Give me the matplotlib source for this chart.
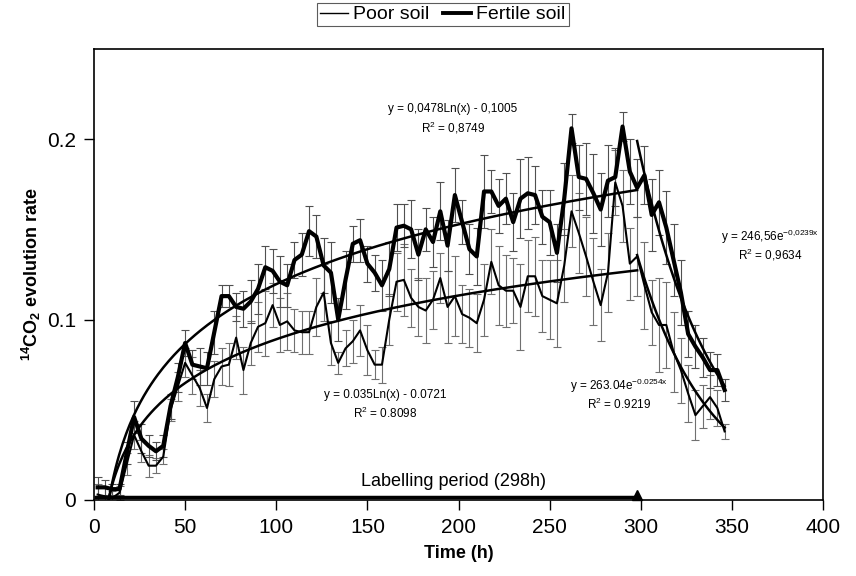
import numpy as np
import matplotlib
matplotlib.use('Agg')
import matplotlib.pyplot as plt
from matplotlib.lines import Line2D

plt.rcParams['font.family'] = ['Liberation Sans', 'DejaVu Sans']
plt.rcParams['mathtext.fontset'] = 'custom'
plt.rcParams['mathtext.rm'] = 'Liberation Sans'
plt.rcParams['mathtext.it'] = 'Liberation Sans'
plt.rcParams['mathtext.bf'] = 'Liberation Sans:bold'

# sampling times (h)
time_h = [2, 6, 10, 14, 18, 22, 26, 30, 34, 38,
          42, 46, 50, 54, 58, 62, 66, 70, 74, 78,
          82, 86, 90, 94, 98, 102, 106, 110, 114, 118,
          122, 126, 130, 134, 138, 142, 146, 150, 154, 158,
          162, 166, 170, 174, 178, 182, 186, 190, 194, 198,
          202, 206, 210, 214, 218, 222, 226, 230, 234, 238,
          242, 246, 250, 254, 258, 262, 266, 270, 274, 278,
          282, 286, 290, 294, 298, 302, 306, 310, 314, 318,
          322, 326, 330, 334, 338, 342, 346]

fertile = [0.007, 0.007, 0.006, 0.006, 0.026, 0.046, 0.034, 0.030, 0.027, 0.030,
           0.052, 0.068, 0.087, 0.075, 0.074, 0.073, 0.093, 0.113, 0.113, 0.107,
           0.106, 0.110, 0.117, 0.129, 0.127, 0.121, 0.119, 0.133, 0.136, 0.149,
           0.146, 0.130, 0.126, 0.100, 0.122, 0.142, 0.144, 0.131, 0.126, 0.119,
           0.128, 0.151, 0.152, 0.150, 0.136, 0.150, 0.143, 0.160, 0.141, 0.169,
           0.154, 0.139, 0.135, 0.171, 0.171, 0.163, 0.167, 0.154, 0.167, 0.170,
           0.169, 0.157, 0.154, 0.137, 0.167, 0.206, 0.179, 0.178, 0.170, 0.161,
           0.177, 0.179, 0.207, 0.182, 0.173, 0.180, 0.158, 0.165, 0.151, 0.133,
           0.115, 0.092, 0.085, 0.079, 0.072, 0.072, 0.061]

poor = [0.003, 0.002, 0.001, 0.004, 0.020, 0.036, 0.027, 0.019, 0.019, 0.024,
        0.050, 0.063, 0.076, 0.069, 0.062, 0.051, 0.067, 0.074, 0.075, 0.090,
        0.072, 0.087, 0.096, 0.098, 0.108, 0.097, 0.099, 0.094, 0.093, 0.093,
        0.107, 0.115, 0.087, 0.076, 0.084, 0.088, 0.094, 0.083, 0.075, 0.075,
        0.100, 0.121, 0.122, 0.112, 0.107, 0.105, 0.111, 0.123, 0.107, 0.113,
        0.103, 0.101, 0.098, 0.111, 0.132, 0.119, 0.116, 0.116, 0.107, 0.124,
        0.124, 0.113, 0.111, 0.109, 0.130, 0.160, 0.148, 0.135, 0.121, 0.108,
        0.126, 0.176, 0.163, 0.131, 0.135, 0.119, 0.104, 0.097, 0.097, 0.082,
        0.072, 0.059, 0.047, 0.052, 0.057, 0.051, 0.038]

fertile_err = [0.006, 0.004, 0.003, 0.003, 0.006, 0.009, 0.008, 0.006, 0.005, 0.006,
               0.007, 0.008, 0.007, 0.008, 0.010, 0.009, 0.012, 0.006, 0.006, 0.008,
               0.010, 0.012, 0.014, 0.012, 0.012, 0.014, 0.012, 0.010, 0.012, 0.014,
               0.012, 0.015, 0.017, 0.012, 0.016, 0.010, 0.012, 0.010, 0.010, 0.014,
               0.015, 0.013, 0.012, 0.016, 0.014, 0.012, 0.014, 0.016, 0.014, 0.015,
               0.012, 0.014, 0.016, 0.020, 0.012, 0.015, 0.014, 0.016, 0.022, 0.020,
               0.016, 0.015, 0.018, 0.016, 0.020, 0.008, 0.018, 0.020, 0.022, 0.020,
               0.020, 0.016, 0.008, 0.018, 0.016, 0.016, 0.020, 0.018, 0.020, 0.020,
               0.018, 0.013, 0.012, 0.011, 0.010, 0.009, 0.006]

poor_err = [0.006, 0.005, 0.004, 0.004, 0.006, 0.008, 0.006, 0.006, 0.004, 0.004,
            0.006, 0.008, 0.008, 0.010, 0.010, 0.008, 0.010, 0.010, 0.012, 0.012,
            0.013, 0.012, 0.014, 0.018, 0.012, 0.015, 0.016, 0.012, 0.012, 0.012,
            0.016, 0.016, 0.012, 0.006, 0.010, 0.012, 0.014, 0.014, 0.008, 0.010,
            0.014, 0.016, 0.020, 0.016, 0.016, 0.018, 0.016, 0.014, 0.020, 0.022,
            0.016, 0.016, 0.016, 0.020, 0.018, 0.022, 0.020, 0.018, 0.024, 0.020,
            0.022, 0.020, 0.022, 0.024, 0.020, 0.020, 0.022, 0.022, 0.024, 0.020,
            0.022, 0.018, 0.020, 0.020, 0.022, 0.024, 0.018, 0.026, 0.024, 0.022,
            0.018, 0.016, 0.014, 0.012, 0.012, 0.010, 0.004]

# trendline coefficients printed on the chart
log_fit_fertile = (0.0478, -0.1005)
log_fit_poor = (0.035, -0.0721)
exp_fit_fertile = (246.56, -0.0239)
exp_fit_poor = (263.04, -0.0254)
labelling_end = 298

fig = plt.figure(figsize=(8.56, 5.76), dpi=100)
ax = fig.add_axes([0.1098, 0.132, 0.8517, 0.783])

# error bars (grey, thin, capped)
ax.errorbar(time_h, poor, yerr=poor_err, fmt='none', ecolor='#707070',
            elinewidth=0.8, capsize=3, capthick=0.8, zorder=1)
ax.errorbar(time_h, fertile, yerr=fertile_err, fmt='none', ecolor='#505050',
            elinewidth=0.8, capsize=3, capthick=0.8, zorder=1)

ax.plot(time_h, poor, color='black', lw=1.5, zorder=3)
ax.plot(time_h, fertile, color='black', lw=3.0, zorder=3)

# trendlines
tl = np.linspace(8, labelling_end, 300)
ax.plot(tl, log_fit_fertile[0] * np.log(tl) + log_fit_fertile[1], color='black', lw=1.8, zorder=4)
ax.plot(tl, log_fit_poor[0] * np.log(tl) + log_fit_poor[1], color='black', lw=1.8, zorder=4)
te = np.linspace(labelling_end, time_h[-1], 100)
ax.plot(te, exp_fit_fertile[0] * np.exp(exp_fit_fertile[1] * te), color='black', lw=1.8, zorder=4)
ax.plot(te, exp_fit_poor[0] * np.exp(exp_fit_poor[1] * te), color='black', lw=1.8, zorder=4)

# labelling period bar
ax.plot([0, labelling_end], [0.0015, 0.0015], color='black', lw=2.5, zorder=5,
        solid_capstyle='butt')
ax.plot([labelling_end], [0.0025], marker='^', color='black', ms=7, zorder=6, clip_on=False)
ax.text(197, 0.0105, 'Labelling period (298h)', ha='center', va='center', fontsize=13)

# equations
fs = 8.5
ax.text(197, 0.2167, 'y = 0,0478Ln(x) - 0,1005', ha='center', va='center', fontsize=fs)
ax.text(197, 0.2065, r'R$^2$ = 0,8749', ha='center', va='center', fontsize=fs)
ax.text(160, 0.0583, 'y = 0.035Ln(x) - 0.0721', ha='center', va='center', fontsize=fs)
ax.text(160, 0.048, r'R$^2$ = 0.8098', ha='center', va='center', fontsize=fs)
ax.text(371, 0.146, r'y = 246,56e$^{\mathrm{-0{,}0239x}}$', ha='center', va='center', fontsize=fs)
ax.text(371, 0.136, r'R$^2$ = 0,9634', ha='center', va='center', fontsize=fs)
ax.text(288, 0.063, r'y = 263.04e$^{\mathrm{-0.0254x}}$', ha='center', va='center', fontsize=fs)
ax.text(288, 0.0528, r'R$^2$ = 0.9219', ha='center', va='center', fontsize=fs)

ax.set_xlim(0, 400)
ax.set_ylim(0, 0.25)
ax.set_xticks([0, 50, 100, 150, 200, 250, 300, 350, 400])
ax.set_yticks([0, 0.1, 0.2])
ax.set_yticklabels(['0', '0.1', '0.2'])
ax.tick_params(direction='out', length=7, width=1, labelsize=15, pad=6)
for s in ax.spines.values():
    s.set_linewidth(1.2)

ax.set_xlabel('Time (h)', fontsize=13, fontweight='bold', labelpad=6)
ax.set_ylabel(r'$\mathbf{^{14}CO_2}$ evolution rate', fontsize=13, fontweight='bold', labelpad=3)

handles = [Line2D([], [], color='black', lw=1.0),
           Line2D([], [], color='black', lw=2.8)]
leg = fig.legend(handles, ['Poor soil', 'Fertile soil'], loc='upper center',
                 bbox_to_anchor=(0.5175, 0.995), ncol=2, fontsize=14, frameon=True,
                 fancybox=False, handlelength=1.4, handletextpad=0.3, columnspacing=0.7,
                 borderpad=0.15, borderaxespad=0)
leg.get_frame().set_edgecolor('#333333')
leg.get_frame().set_linewidth(0.8)

fig.savefig('out.png', dpi=100)
